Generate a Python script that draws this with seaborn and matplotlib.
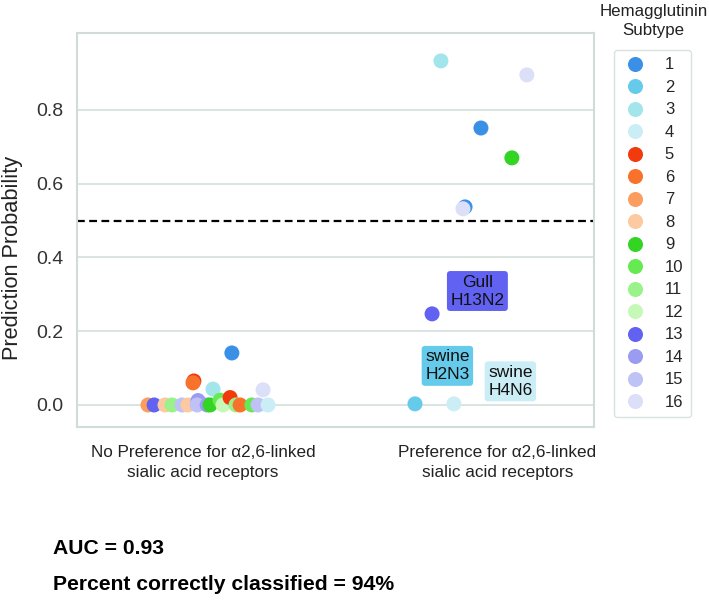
import numpy as np
import pandas as pd
import seaborn as sns
import matplotlib.pyplot as plt

# subtype colours (legend order)
SUBTYPES = [str(i) for i in range(1, 17)]
COLORS = ['#3a90e6', '#66cbeb', '#a2e6ec', '#cbedf6',
          '#f23a0c', '#f8722c', '#fb9d5e', '#fcc9a0',
          '#34d424', '#66ea52', '#9af28a', '#c6f8b8',
          '#6262f2', '#9a9cf2', '#bec2f6', '#dcdff8']

CATEGORIES = ['No Preference for α2,6-linked\nsialic acid receptors',
              'Preference for α2,6-linked\nsialic acid receptors']

# no preference group (draw order back to front)
no_pref_subtype = ['7', '13', '8', '11', '15', '8', '5', '6', '14', '15', '14', '9',
                   '3', '10', '12', '5', '1', '11', '6', '10', '15', '16', '4']
no_pref_prob = [0.0, 0.0, 0.0, 0.0, 0.0, 0.0, 0.065, 0.060, 0.012, 0.0, 0.0, 0.0,
                0.043, 0.013, 0.0, 0.020, 0.141, 0.0, 0.0, 0.0, 0.0, 0.041, 0.0]
no_pref_jitter = [-0.187, -0.166, -0.129, -0.105, -0.071, -0.051, -0.031, -0.034, -0.017,
                  -0.020, 0.014, 0.024, 0.034, 0.058, 0.068, 0.092, 0.098, 0.112, 0.126,
                  0.166, 0.187, 0.204, 0.221]

# preference group
pref_subtype = ['3', '16', '1', '9', '1', '16', '13', '2', '4']
pref_prob = [0.933, 0.895, 0.751, 0.670, 0.537, 0.532, 0.247, 0.003, 0.003]
pref_jitter = [-0.192, 0.100, -0.056, 0.049, -0.110, -0.117, -0.222, -0.280, -0.148]

# labelled strains: text, subtype colour, x, y
LABELS = [('Gull\nH13N2', '13', 0.932, 0.309),
          ('swine\nH2N3', '2', 0.830, 0.106),
          ('swine\nH4N6', '4', 1.044, 0.064)]

AUC = 0.93
PCT_CORRECT = 94

df = pd.DataFrame({
    'group': [0] * len(no_pref_prob) + [1] * len(pref_prob),
    'jitter': no_pref_jitter + pref_jitter,
    'prob': no_pref_prob + pref_prob,
    'subtype': no_pref_subtype + pref_subtype,
})
df['x'] = df['group'] + df['jitter']

sns.set_theme(style="whitegrid")
plt.rcParams['font.family'] = ['Liberation Sans', 'DejaVu Sans']
edge = '#cfdcd8'

fig = plt.figure(figsize=(7.09, 6.09), dpi=100)
ax = fig.add_axes([0.1086, 0.2989, 0.7292, 0.647])

palette = dict(zip(SUBTYPES, COLORS))
sns.scatterplot(data=df, x='x', y='prob', hue='subtype', hue_order=SUBTYPES,
                palette=palette, s=117, linewidth=0, alpha=1, ax=ax)

ax.axhline(0.5, color='black', ls=(0, (3.5, 2)), lw=1.6, zorder=1)

for text, st, x, y in LABELS:
    ax.text(x, y, text, ha='center', va='center', fontsize=12.5, color='#111111',
            linespacing=1.25,
            bbox=dict(boxstyle='round,pad=0.2,rounding_size=0.2', fc=palette[st], ec='none'))

ax.set_xlim(-0.428, 1.328)
ax.set_ylim(-0.0597, 1.0088)
ax.set_xticks([0, 1])
ax.set_xticklabels(CATEGORIES, fontsize=12.3, color='#222222', linespacing=1.4)
ax.set_yticks([0, 0.2, 0.4, 0.6, 0.8])
ax.set_yticklabels(['0.0', '0.2', '0.4', '0.6', '0.8'], fontsize=14, color='#333333')
ax.tick_params(axis='y', pad=10, length=0)
ax.tick_params(axis='x', pad=13, length=0)
ax.grid(axis='x', visible=False)
ax.grid(axis='y', color=edge, lw=1.1)
for sp in ax.spines.values():
    sp.set_color(edge)
    sp.set_linewidth(1.5)
ax.set_xlabel('')
ax.set_ylabel('Prediction Probability', fontsize=15.7, color='#222222')
ax.yaxis.set_label_coords(-0.104, 0.43)

handles, labels = ax.get_legend_handles_labels()
ax.legend(handles, labels, loc='upper left', bbox_to_anchor=(0.866, 0.918),
          bbox_transform=fig.transFigure, fontsize=12, frameon=True,
          edgecolor=edge, labelspacing=0.45, handlelength=1.6, handletextpad=1.0,
          borderpad=0.45, borderaxespad=0, fancybox=True)
fig.text(0.922, 1 - 21 / 609, 'Hemagglutinin\nSubtype', ha='center', va='center',
         fontsize=12.2, color='#222222', linespacing=1.4)

bold = dict(fontsize=15.2, fontweight='bold', color='black')
fig.text(53 / 709, 1 - 549 / 609, f'AUC = {AUC}', va='center', ha='left', **bold)
fig.text(53 / 709, 1 - 585 / 609, f'Percent correctly classified = {PCT_CORRECT}%',
         va='center', ha='left', **bold)

fig.savefig('out.png', dpi=100)
